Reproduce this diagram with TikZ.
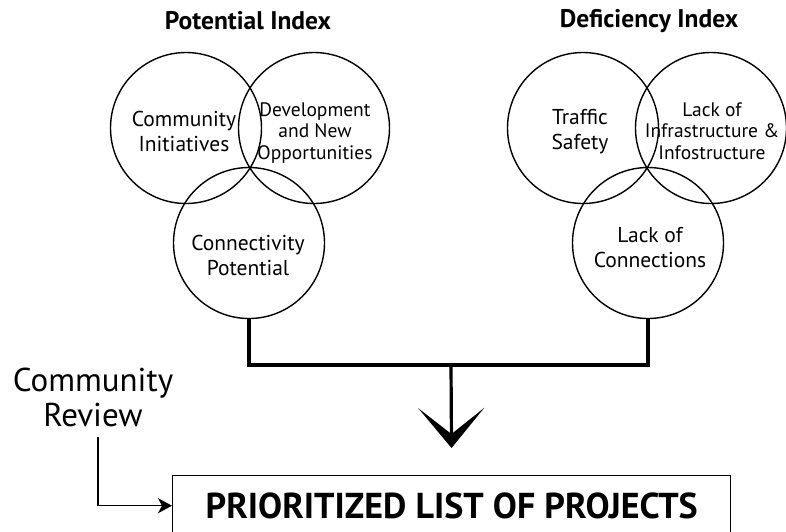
\documentclass[tikz,border=0pt]{standalone}
\usepackage{fontspec}
\setmainfont{PT Sans}
\usetikzlibrary{arrows.meta}
\tikzset{
  venn/.style={draw, circle, line width=1.4pt, minimum size=151pt, inner sep=0pt},
  head/.style={font=\bfseries\fontsize{25.5}{30}\selectfont},
  big/.style={align=center, font=\fontsize{21.5}{25}\selectfont},
  small/.style={align=center, font=\fontsize{19.5}{21.5}\selectfont},
  bracket/.style={line width=3.2pt},
  feed/.style={line width=1.4pt}
}
\begin{document}
\begin{tikzpicture}[x=1pt, y=-1pt]
\useasboundingbox (0,0) rectangle (786,531);

\node[head] (pi) at (248,21) {Potential Index};
\node[head] (di) at (649,21) {Deficiency Index};

\node[venn] (ci) at (186,128) {};
\node[venn] (dno) at (314,128) {};
\node[venn] (cp) at (249,243) {};
\node[venn] (ts) at (583,128) {};
\node[venn] (li) at (711,128) {};
\node[venn] (lc) at (648,243) {};

\node[big] (ci-t) at (184,131) {Community\\Initiatives};
\node[small] (dno-t) at (315,133) {Development\\and New\\Opportunities};
\node[big] (cp-t) at (248,255) {Connectivity\\Potential};
\node[big] (ts-t) at (580,132) {Traffic\\Safety};
\node[small] (li-t) at (712,131) {Lack of\\Infrastructure \&\\Infostructure};
\node[big] (lc-t) at (650,248) {Lack of\\Connections};

\node[draw, line width=1.4pt, anchor=north west, minimum width=558pt, minimum height=60pt,
  font=\bfseries\fontsize{36}{42}\selectfont] (list) at (172,475) {PRIORITIZED LIST OF PROJECTS};

\node[align=center, font=\fontsize{33}{35}\selectfont] (cr) at (93,397) {Community\\Review};

\coordinate (j) at (451,365);
\coordinate (cr-out) at (98,437);

\path[draw,bracket] (cp.south) -- (cp.south |- j) -- (lc.south |- j) -- (lc.south);
\path[draw,bracket,-{Stealth[length=40pt,width=66pt,inset=26pt]}, shorten >=27pt] (j) -- (list.north);
\path[draw,feed,-{Stealth[length=14pt,width=15pt,inset=4pt]}] (cr-out) |- (list.west);
\end{tikzpicture}
\end{document}
